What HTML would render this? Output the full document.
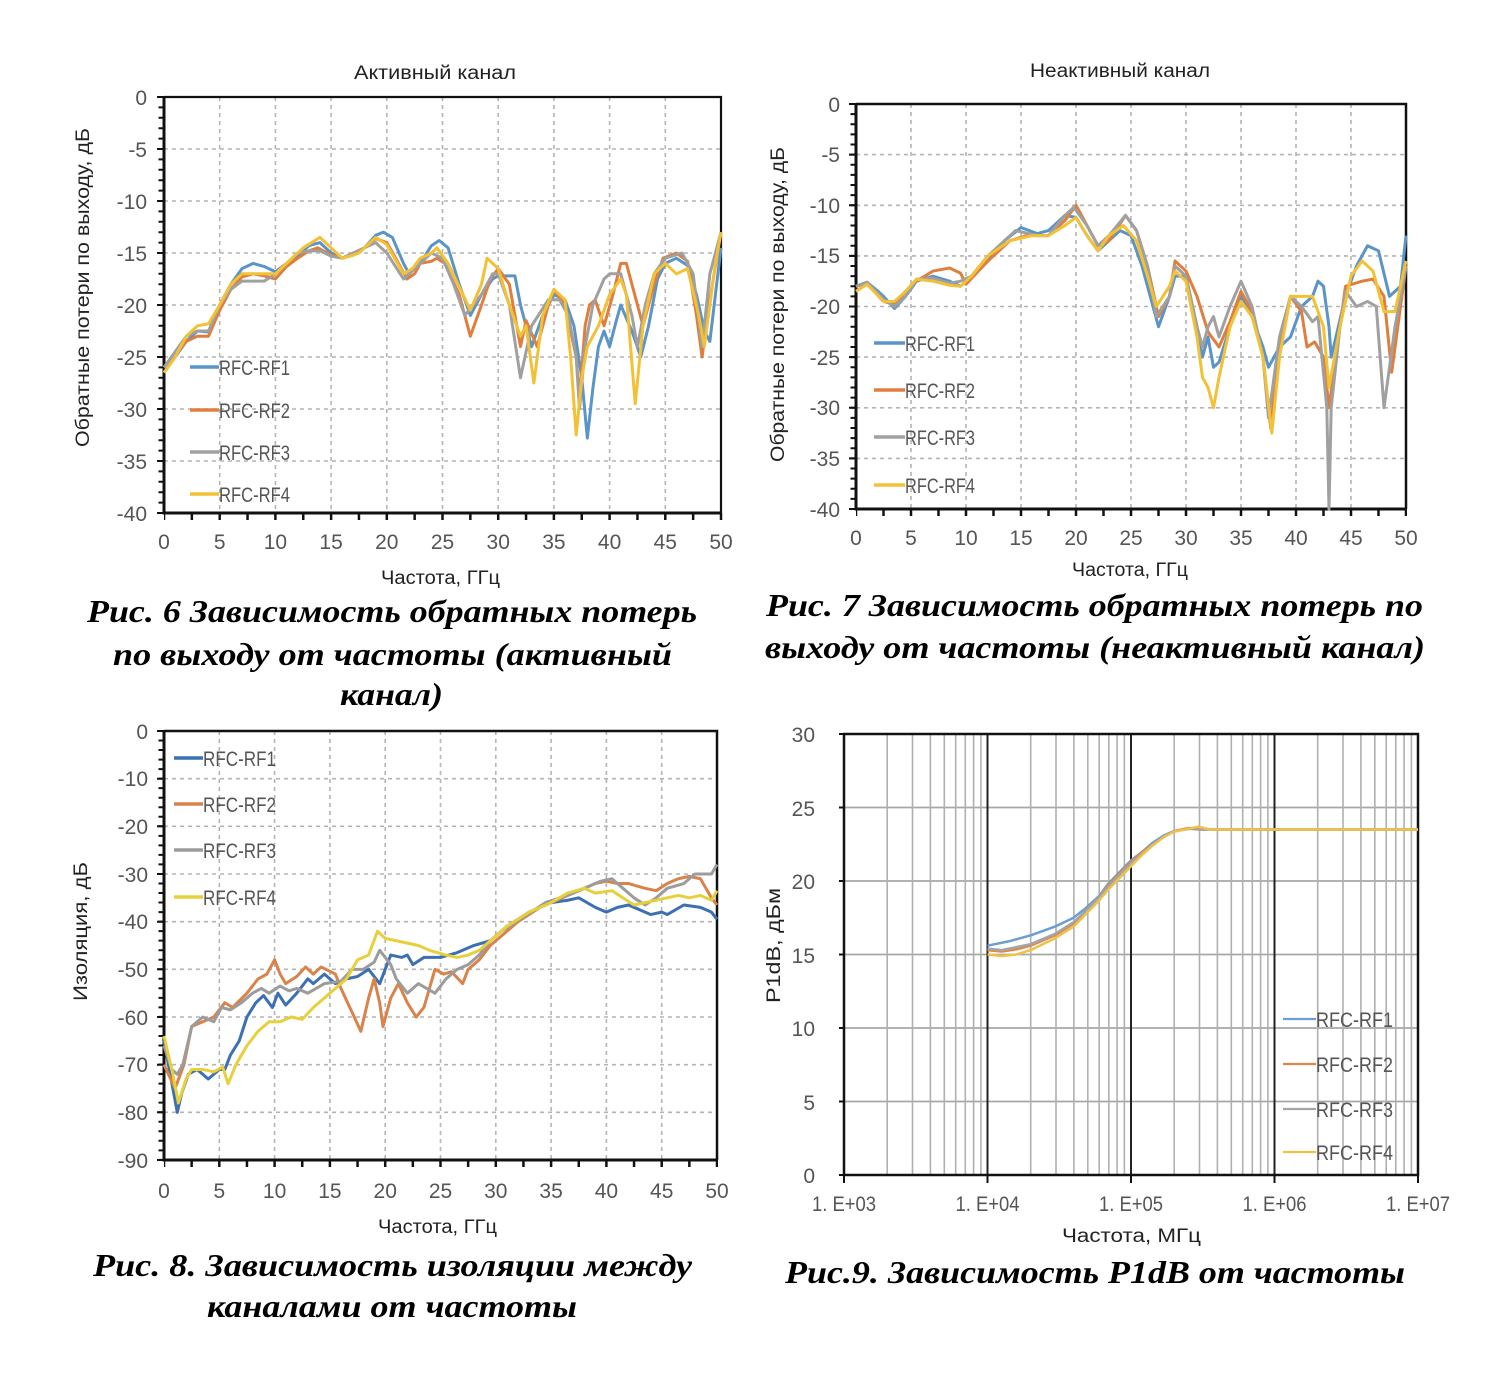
<!DOCTYPE html>
<html><head><meta charset="utf-8"><style>
html,body{margin:0;padding:0;background:#fff}
svg{display:block}
.t{font-family:"Liberation Sans",sans-serif;fill:#555;font-size:21px}
.ttl{font-family:"Liberation Sans",sans-serif;fill:#222;font-size:19px}
.cap{font-family:"Liberation Serif",serif;font-weight:bold;font-style:italic;font-size:32px;fill:#000}
.lg{font-family:"Liberation Sans",sans-serif;fill:#555;font-size:21px}
polyline{vector-effect:non-scaling-stroke}
</style></head><body>
<svg width="1486" height="1373" viewBox="0 0 1486 1373" xmlns="http://www.w3.org/2000/svg">
<rect width="1486" height="1373" fill="#fff"/>

<!-- ============ CHART 1 ============ -->
<text class="ttl" x="435" y="79" text-anchor="middle" textLength="162" lengthAdjust="spacingAndGlyphs">Активный канал</text>
<path d="M164 149H721M164 201H721M164 253H721M164 305H721M164 357H721M164 409H721M164 461H721M219.7 97V513M275.4 97V513M331.1 97V513M386.8 97V513M442.5 97V513M498.2 97V513M553.9 97V513M609.6 97V513M665.3 97V513" stroke="#b4b4b4" stroke-width="1.6" stroke-dasharray="4 4" fill="none"/>
<path d="M164 97H721V513" stroke="#111" stroke-width="2.2" fill="none"/>
<line x1="161" y1="97" x2="161" y2="513" stroke="#111" stroke-width="5" stroke-dasharray="2 8.4" stroke-dashoffset="1"/>
<path d="M157 97H164M157 149H164M157 201H164M157 253H164M157 305H164M157 357H164M157 409H164M157 461H164M157 513H164" stroke="#111" stroke-width="2"/>
<line x1="164" y1="516.5" x2="723" y2="516.5" stroke="#111" stroke-width="7" stroke-dasharray="2.5 25.35" stroke-dashoffset="1.25"/>
<path d="M164 97V513H721" stroke="#111" stroke-width="3" fill="none"/>
<g class="t" text-anchor="end">
<text x="147" y="105">0</text><text x="147" y="157">-5</text><text x="147" y="209">-10</text><text x="147" y="261">-15</text><text x="147" y="313">-20</text><text x="147" y="365">-25</text><text x="147" y="417">-30</text><text x="147" y="469">-35</text><text x="147" y="521">-40</text>
</g>
<g class="t" text-anchor="middle">
<text x="164" y="549">0</text><text x="219.7" y="549">5</text><text x="275.4" y="549">10</text><text x="331.1" y="549">15</text><text x="386.8" y="549">20</text><text x="442.5" y="549">25</text><text x="498.2" y="549">30</text><text x="553.9" y="549">35</text><text x="609.6" y="549">40</text><text x="665.3" y="549">45</text><text x="721" y="549">50</text>
</g>
<text class="ttl" transform="translate(89 287.5) rotate(-90)" text-anchor="middle" textLength="319" lengthAdjust="spacingAndGlyphs">Обратные потери по выходу, дБ</text>
<text class="ttl" x="440.5" y="584" text-anchor="middle" textLength="119" lengthAdjust="spacingAndGlyphs">Частота, ГГц</text>
<g transform="translate(164 97) scale(11.14 -10.4)" fill="none" stroke-width="3" stroke-linejoin="round">
<polyline stroke="#5a94c8" points="0,-26.5 1,-25 2,-23.5 3,-22.5 4,-22.6 4.5,-21.5 5,-20 6,-18 7,-16.5 8,-16 9,-16.3 10,-16.8 11,-16 12,-15.3 13,-14.3 14,-14 15,-15 16,-15.5 17,-15.2 18,-14.5 19,-13.3 19.7,-13 20.5,-13.5 21.5,-16 22,-17 23,-16 24,-14.3 24.7,-13.8 25.5,-14.5 26.5,-18 27.5,-21 28.5,-19 29.5,-17.5 30,-17.2 31.5,-17.2 32,-20 33,-24 34,-21 35,-19 36,-19.5 36.8,-22 37.5,-27 38,-32.8 38.5,-28 39,-24 39.5,-22.5 40,-24 40.6,-21.5 41,-20 42,-22.5 42.8,-25 43.5,-22 44.3,-17.5 45,-16 46,-15.5 47,-16.2 47.8,-19 48.5,-22.5 49,-23.5 49.5,-19 50,-14.5"/>
<polyline stroke="#e07e3e" points="0,-26 1,-24.8 2,-23.5 3,-23 4,-23 5,-20.5 6,-18.5 7,-17.3 8,-17 9,-17.2 10,-17.5 11,-16.3 12,-15.5 13,-14.8 13.8,-14.5 15,-15.2 16,-15.5 17,-15 18,-14.5 19,-13.6 20,-14 20.8,-15.5 21.8,-17.5 22.5,-17 23,-16 24,-15.8 24.5,-15.5 25.2,-16 26.5,-19 27.5,-23 28.5,-20 29.3,-17.5 30,-16.5 31,-18 32,-24 32.5,-21.5 33.5,-24 34.5,-20 35,-18.5 36,-20 37,-25 37.3,-29 37.8,-22 38.2,-20 38.7,-19.5 39.5,-22 40.3,-19 41,-16 41.5,-16 42.5,-20 43,-22 44,-18 44.8,-15.5 46,-15 47,-15.8 47.8,-21 48.3,-25 49,-19.5 50,-13"/>
<polyline stroke="#a0a0a0" points="0,-26 1,-24.5 2,-23 3,-22.5 4,-22.5 5,-20 6,-18.5 7,-17.7 8,-17.7 9,-17.7 10,-17 11,-16 12,-15 13,-14.8 14,-14.8 15,-15.3 16,-15.5 17,-15 18,-14.5 19,-14 20,-15 21.5,-17.5 22.5,-16.5 24,-15 25,-15.5 26,-18 27,-21 28.5,-19 29.5,-17 30,-17 31,-20 32,-27 33,-22 34.5,-19.5 35.5,-19.5 36.3,-21 37,-25 37.3,-30 37.8,-24 38.5,-20 39.5,-17.5 40,-17 41,-17 42,-21 42.5,-24 43.2,-20 44,-17 45,-15.5 46.5,-15 47.5,-17 48.3,-24 49,-17 50,-13"/>
<polyline stroke="#f3c136" points="0,-26.5 1,-25 2,-23 3,-22 4,-21.8 5,-20 6,-18 7,-17 8.5,-17 10,-17 11,-16 12,-15 12.5,-14.5 14,-13.5 15,-14.5 16,-15.5 17,-15.2 17.5,-15 19,-13.5 20,-14.2 21.5,-17 22.3,-16.5 23,-15.5 24,-15 24.5,-14.5 25.5,-16 27.5,-20.5 28.5,-18 29,-15.5 30,-16.5 31,-20 32,-23 32.5,-22 33.2,-27.5 34,-21 35,-18.5 36,-19.5 36.5,-25 37,-32.5 37.5,-27 38,-24 39,-22 40,-19 41,-17.5 41.5,-19 42.3,-29.5 43,-22 44,-17 45,-16 46,-17 47,-16.5 48,-21 48.5,-24 49.5,-16 50,-13"/>
</g>
<g stroke-width="3.5">
<line x1="190" y1="367" x2="219" y2="367" stroke="#5a94c8"/>
<line x1="190" y1="410" x2="219" y2="410" stroke="#e07e3e"/>
<line x1="190" y1="452" x2="219" y2="452" stroke="#a0a0a0"/>
<line x1="190" y1="494" x2="219" y2="494" stroke="#f3c136"/>
</g>
<g class="lg">
<text x="219" y="375" textLength="71" lengthAdjust="spacingAndGlyphs">RFC-RF1</text>
<text x="219" y="418" textLength="71" lengthAdjust="spacingAndGlyphs">RFC-RF2</text>
<text x="219" y="460" textLength="71" lengthAdjust="spacingAndGlyphs">RFC-RF3</text>
<text x="219" y="502" textLength="71" lengthAdjust="spacingAndGlyphs">RFC-RF4</text>
</g>
<text class="cap" x="392" y="622" text-anchor="middle" textLength="610" lengthAdjust="spacingAndGlyphs">Рис. 6 Зависимость обратных потерь</text>
<text class="cap" x="392.5" y="665" text-anchor="middle" textLength="559" lengthAdjust="spacingAndGlyphs">по выходу от частоты (активный</text>
<text class="cap" x="391.5" y="705" text-anchor="middle" textLength="103" lengthAdjust="spacingAndGlyphs">канал)</text>

<!-- ============ CHART 2 ============ -->
<text class="ttl" x="1120" y="77" text-anchor="middle" textLength="180" lengthAdjust="spacingAndGlyphs">Неактивный канал</text>
<path d="M856 154.6H1406M856 205.3H1406M856 255.9H1406M856 306.5H1406M856 357.1H1406M856 407.8H1406M856 458.4H1406M911 104V509M966 104V509M1021 104V509M1076 104V509M1131 104V509M1186 104V509M1241 104V509M1296 104V509M1351 104V509" stroke="#b4b4b4" stroke-width="1.6" stroke-dasharray="4 4" fill="none"/>
<path d="M856 104H1406V509" stroke="#111" stroke-width="2.5" fill="none"/>
<line x1="853" y1="104" x2="853" y2="509" stroke="#111" stroke-width="5" stroke-dasharray="2 8.125" stroke-dashoffset="1"/>
<path d="M849 104H856M849 154.6H856M849 205.3H856M849 255.9H856M849 306.5H856M849 357.1H856M849 407.8H856M849 458.4H856M849 509H856" stroke="#111" stroke-width="2"/>
<line x1="856" y1="512.5" x2="1407" y2="512.5" stroke="#111" stroke-width="7" stroke-dasharray="2.5 25" stroke-dashoffset="1.25"/>
<path d="M856 104V509H1406" stroke="#111" stroke-width="3" fill="none"/>
<g class="t" text-anchor="end">
<text x="840" y="112">0</text><text x="840" y="162">-5</text><text x="840" y="213">-10</text><text x="840" y="263">-15</text><text x="840" y="314">-20</text><text x="840" y="365">-25</text><text x="840" y="415">-30</text><text x="840" y="466">-35</text><text x="840" y="517">-40</text>
</g>
<g class="t" text-anchor="middle">
<text x="856" y="545">0</text><text x="911" y="545">5</text><text x="966" y="545">10</text><text x="1021" y="545">15</text><text x="1076" y="545">20</text><text x="1131" y="545">25</text><text x="1186" y="545">30</text><text x="1241" y="545">35</text><text x="1296" y="545">40</text><text x="1351" y="545">45</text><text x="1406" y="545">50</text>
</g>
<text class="ttl" transform="translate(784 304.5) rotate(-90)" text-anchor="middle" textLength="315" lengthAdjust="spacingAndGlyphs">Обратные потери по выходу, дБ</text>
<text class="ttl" x="1130" y="576" text-anchor="middle" textLength="116" lengthAdjust="spacingAndGlyphs">Частота, ГГц</text>
<g transform="translate(856 104) scale(11 -10.125)" fill="none" stroke-width="3" stroke-linejoin="round">
<polyline stroke="#5a94c8" points="0,-18 1,-17.6 2,-18.5 2.5,-19 3.5,-20.2 4.5,-19 5.5,-17.5 7,-17 8.5,-17.5 9.5,-18 10.5,-17 12,-15.5 13.5,-13.5 15,-12.2 16.5,-12.8 17.5,-12.5 19,-11 20,-11.2 21,-13 22,-14.5 23,-13.5 24,-12.5 25,-13 26,-16 27,-20 27.5,-22 28.5,-19 29,-17 30,-17 31,-22 31.5,-25 32,-23 32.5,-26 33,-25.5 34,-22 35,-19 36,-21 37,-24 37.5,-26 38.5,-24 39.5,-23 40.5,-20 41.5,-19 42,-17.5 42.5,-18 43,-22 43.2,-25 44.5,-19 45.5,-16 46.5,-14 47.5,-14.5 48.5,-19 49.5,-18 50,-13"/>
<polyline stroke="#e07e3e" points="0,-18 1,-17.7 2.5,-19.5 3.5,-19.8 4.5,-18.5 5.5,-17.5 7,-16.5 8.5,-16.2 9.5,-16.7 10,-17.8 12,-15.5 14,-13.5 15.5,-13 17.5,-13 19,-11.5 20,-10 21,-12 22,-14 23,-13.5 24.5,-11 25.5,-12.5 26.5,-16 27.5,-21 28.5,-19 29,-15.5 30,-16.5 31,-19 32,-22.5 33,-24 34,-21.5 35,-18.5 36,-20.5 37,-25 37.7,-32 38.5,-24 39.5,-19 40.5,-20.5 41,-24 41.7,-23.5 42.5,-25 43,-30 44,-22 44.5,-18 46,-17.5 47,-17.3 48,-19 48.7,-26.5 49.5,-20 50,-16"/>
<polyline stroke="#a0a0a0" points="0,-18 1,-17.6 2.5,-19.3 3.5,-20 4.5,-19 5.5,-17.3 7,-17.2 8.5,-17.7 9.5,-17.5 10.5,-17 12,-15 14.5,-12.5 16.5,-13 17.5,-13 19,-11 19.8,-10.2 21,-12 22,-14 23,-13 24.5,-11 25.5,-12.5 26.5,-16 27.3,-21 28.5,-19 29,-16 30,-17 31,-22 31.5,-24 32,-22 32.5,-21 33,-23 34,-20 35,-17.5 36,-20 37,-25 37.5,-31 38.5,-23 39.5,-19 40.5,-20 41.5,-21.5 42,-21 42.8,-30 43,-40 43.2,-30 44,-22 44.5,-18.5 45.5,-20 46.5,-19.5 47.3,-20 48,-30 49,-22 50,-16"/>
<polyline stroke="#f3c136" points="0,-18.5 1,-17.8 2.5,-19.5 3.5,-19.5 4.5,-18.5 5.5,-17.3 7,-17.5 8.5,-17.9 9.5,-18 10.5,-17 12,-15 14,-13.5 16,-13 17.5,-13 19,-12 20,-11.2 21,-13 22,-14.5 23,-13 24.3,-12 25.5,-13.5 26.5,-17 27.3,-20 28.5,-18 29,-16.5 30,-17.5 31,-23 31.5,-27 32,-28 32.5,-30 33,-27 34,-22 35,-19.5 36,-21 37,-25 37.8,-32.5 38.5,-25 39.5,-19 40.5,-19 41.5,-19 42.5,-22 43,-28 44,-22 45,-17 46,-15.5 47,-16.5 48,-20.5 49,-20.5 50,-15.5"/>
</g>
<g stroke-width="3.5">
<line x1="874" y1="343" x2="905" y2="343" stroke="#5a94c8"/>
<line x1="874" y1="390" x2="905" y2="390" stroke="#e07e3e"/>
<line x1="874" y1="437" x2="905" y2="437" stroke="#a0a0a0"/>
<line x1="874" y1="485" x2="905" y2="485" stroke="#f3c136"/>
</g>
<g class="lg">
<text x="905" y="351" textLength="70" lengthAdjust="spacingAndGlyphs">RFC-RF1</text>
<text x="905" y="398" textLength="70" lengthAdjust="spacingAndGlyphs">RFC-RF2</text>
<text x="905" y="445" textLength="70" lengthAdjust="spacingAndGlyphs">RFC-RF3</text>
<text x="905" y="493" textLength="70" lengthAdjust="spacingAndGlyphs">RFC-RF4</text>
</g>
<text class="cap" x="1094.5" y="616" text-anchor="middle" textLength="657" lengthAdjust="spacingAndGlyphs">Рис. 7 Зависимость обратных потерь по</text>
<text class="cap" x="1095" y="658" text-anchor="middle" textLength="660" lengthAdjust="spacingAndGlyphs">выходу от частоты (неактивный канал)</text>

<!-- ============ CHART 3 ============ -->
<path d="M164 778.7H717M164 826.3H717M164 874H717M164 921.7H717M164 969.3H717M164 1017H717M164 1064.7H717M164 1112.3H717M219.3 731V1160M274.6 731V1160M329.9 731V1160M385.2 731V1160M440.5 731V1160M495.8 731V1160M551.1 731V1160M606.4 731V1160M661.7 731V1160" stroke="#b4b4b4" stroke-width="1.6" stroke-dasharray="4 4" fill="none"/>
<path d="M164 731H717V1160" stroke="#111" stroke-width="2.5" fill="none"/>
<line x1="161" y1="731" x2="161" y2="1160" stroke="#111" stroke-width="5" stroke-dasharray="2 7.53" stroke-dashoffset="1"/>
<path d="M157 731H164M157 778.7H164M157 826.3H164M157 874H164M157 921.7H164M157 969.3H164M157 1017H164M157 1064.7H164M157 1112.3H164M157 1160H164" stroke="#111" stroke-width="2"/>
<line x1="164" y1="1163.5" x2="718" y2="1163.5" stroke="#111" stroke-width="7" stroke-dasharray="2.5 25.15" stroke-dashoffset="1.25"/>
<path d="M164 731V1160H717" stroke="#111" stroke-width="3" fill="none"/>
<g class="t" text-anchor="end">
<text x="148" y="739">0</text><text x="148" y="786">-10</text><text x="148" y="834">-20</text><text x="148" y="882">-30</text><text x="148" y="929">-40</text><text x="148" y="977">-50</text><text x="148" y="1025">-60</text><text x="148" y="1072">-70</text><text x="148" y="1120">-80</text><text x="148" y="1168">-90</text>
</g>
<g class="t" text-anchor="middle">
<text x="164" y="1198">0</text><text x="219.3" y="1198">5</text><text x="274.6" y="1198">10</text><text x="329.9" y="1198">15</text><text x="385.2" y="1198">20</text><text x="440.5" y="1198">25</text><text x="495.8" y="1198">30</text><text x="551.1" y="1198">35</text><text x="606.4" y="1198">40</text><text x="661.7" y="1198">45</text><text x="717" y="1198">50</text>
</g>
<text class="ttl" transform="translate(87 931.5) rotate(-90)" text-anchor="middle" textLength="139" lengthAdjust="spacingAndGlyphs">Изоляция, дБ</text>
<text class="ttl" x="437.5" y="1233" text-anchor="middle" textLength="119" lengthAdjust="spacingAndGlyphs">Частота, ГГц</text>
<g transform="translate(164 731) scale(11.06 -4.767)" fill="none" stroke-width="3" stroke-linejoin="round">
<polyline stroke="#3d6fb3" points="0,-65 0.8,-75 1.2,-80 1.6,-76 2.2,-72 3,-71 3.5,-72 4,-73 5,-71 5.5,-71 6,-68 6.8,-65 7.5,-60 8.3,-57 9,-55.5 9.8,-58 10.3,-55 11,-57.5 12,-55 13,-52 13.5,-53 14.5,-51 15.5,-53 16.5,-52 17.5,-51.5 18.5,-50 19.5,-53 20.5,-47 21.5,-47.5 22,-47 22.5,-49 23.5,-47.5 25,-47.5 26.5,-46.5 28,-45 29.5,-44 31,-41 33,-38 35,-36 36.5,-35.5 37.5,-35 39,-37 40,-38 41,-37 42,-36.5 43,-37.5 44,-38.5 45,-38 45.5,-38.5 47,-36.5 48.5,-37 49.5,-38 50,-39.5"/>
<polyline stroke="#d9824a" points="0,-70 0.6,-73 1,-75 1.8,-70 2.5,-62 3.5,-61 4.5,-60 5.5,-57 6.2,-58 7.5,-55 8.5,-52 9.3,-51 10,-48 10.5,-51 11,-53 12,-51.5 12.8,-49.5 13.5,-51 14.2,-49.5 15.5,-51 16,-54 17,-59 17.8,-63 18.5,-56 19,-52 19.5,-57 19.8,-62 20.5,-56 21.2,-53 22,-57 22.8,-60 23.5,-58 24.5,-50 25.3,-51 26,-50.5 27,-53 27.5,-50 28.5,-48 29.5,-45 30.5,-43 32,-40 34,-37 36,-35 38,-33 39,-32 40,-31.5 41,-32 42,-32 43.5,-33 44.5,-33.5 45.5,-32 46.5,-31 47.5,-30.5 48.5,-31 49.5,-35 50,-36.5"/>
<polyline stroke="#9c9c9c" points="0,-66 0.7,-71 1.2,-72 1.7,-70 2.5,-62 3.5,-60 4.5,-61 5.2,-58 6,-58.5 7,-57 8,-55 8.8,-54 9.5,-55 10.5,-53.5 11.3,-54.5 12,-54 13,-55 14.5,-53 16,-52.5 17,-50 18,-50 19,-48.5 19.5,-46 20.5,-49 21,-52 22,-55 23,-53 24.5,-55 25.5,-52 26.5,-50 27.5,-49 28.5,-47 29.5,-44 30.5,-42 32.5,-39 34.5,-36 36.5,-34.5 38,-33 39.5,-31.5 40.5,-31 41.5,-33 42.5,-35 43.5,-36.5 44.5,-35 45.5,-33 47,-32 48,-30 49.5,-30 50,-28"/>
<polyline stroke="#e6d03c" points="0,-64 0.8,-72 1.3,-78 2,-73 2.5,-71 3.5,-71 4.5,-71.5 5.3,-70.5 5.8,-74 6.5,-70 7.5,-66 8.5,-63 9.5,-61 10.5,-61 11.5,-60 12.5,-60.5 13.5,-58 14.5,-56 15.5,-54 16.5,-52 17.5,-48 18.5,-47 19.3,-42 20,-43.5 21,-44 22,-44.5 23,-45 24,-46 25.5,-47 26.5,-47.5 27.5,-47 28.5,-46 29.5,-44 31,-41 33,-38 35,-36 36.5,-34 38,-33 39,-34 40.5,-33.5 41.5,-35 42.5,-36.5 43.5,-36 44.5,-35.5 45.5,-35 46.5,-34.5 47.5,-35 48.5,-34.5 49.5,-35.5 50,-33.5"/>
</g>
<g stroke-width="3.5">
<line x1="174" y1="758" x2="203" y2="758" stroke="#3d6fb3"/>
<line x1="174" y1="804" x2="203" y2="804" stroke="#d9824a"/>
<line x1="174" y1="850" x2="203" y2="850" stroke="#9c9c9c"/>
<line x1="174" y1="897" x2="203" y2="897" stroke="#e6d03c"/>
</g>
<g class="lg">
<text x="203" y="766" textLength="73" lengthAdjust="spacingAndGlyphs">RFC-RF1</text>
<text x="203" y="812" textLength="73" lengthAdjust="spacingAndGlyphs">RFC-RF2</text>
<text x="203" y="858" textLength="73" lengthAdjust="spacingAndGlyphs">RFC-RF3</text>
<text x="203" y="905" textLength="73" lengthAdjust="spacingAndGlyphs">RFC-RF4</text>
</g>
<text class="cap" x="392.5" y="1276" text-anchor="middle" textLength="599" lengthAdjust="spacingAndGlyphs">Рис. 8. Зависимость изоляции между</text>
<text class="cap" x="392" y="1317" text-anchor="middle" textLength="370" lengthAdjust="spacingAndGlyphs">каналами от частоты</text>

<!-- ============ CHART 4 ============ -->
<path d="M844 1101.5H1418M844 1028H1418M844 954.5H1418M844 881H1418M844 807.5H1418" stroke="#a8a8a8" stroke-width="1.8" fill="none"/>
<path d="M887.2 734V1175M912.5 734V1175M930.4 734V1175M944.3 734V1175M955.7 734V1175M965.3 734V1175M973.6 734V1175M980.9 734V1175M1030.7 734V1175M1056 734V1175M1073.9 734V1175M1087.8 734V1175M1099.2 734V1175M1108.8 734V1175M1117.1 734V1175M1124.4 734V1175M1174.2 734V1175M1199.5 734V1175M1217.4 734V1175M1231.3 734V1175M1242.7 734V1175M1252.3 734V1175M1260.6 734V1175M1267.9 734V1175M1317.7 734V1175M1343 734V1175M1360.9 734V1175M1374.8 734V1175M1386.2 734V1175M1395.8 734V1175M1404.1 734V1175M1411.4 734V1175" stroke="#b0b0b0" stroke-width="1.6" fill="none"/>
<path d="M987.5 734V1175M1131 734V1175M1274.5 734V1175" stroke="#222" stroke-width="2" fill="none"/>
<path d="M844 734H1418V1175H844Z" stroke="#111" stroke-width="2.5" fill="none"/>
<path d="M839 734H844M839 807.5H844M839 881H844M839 954.5H844M839 1028H844M839 1101.5H844M839 1175H844M844 1175V1183M987.5 1175V1183M1131 1175V1183M1274.5 1175V1183M1418 1175V1183" stroke="#111" stroke-width="2"/>
<g class="t" text-anchor="end">
<text x="815" y="742">30</text><text x="815" y="816">25</text><text x="815" y="889">20</text><text x="815" y="963">15</text><text x="815" y="1036">10</text><text x="815" y="1110">5</text><text x="815" y="1183">0</text>
</g>
<g class="t" text-anchor="middle">
<text x="844" y="1211" textLength="64" lengthAdjust="spacingAndGlyphs">1. E+03</text>
<text x="987.5" y="1211" textLength="64" lengthAdjust="spacingAndGlyphs">1. E+04</text>
<text x="1131" y="1211" textLength="64" lengthAdjust="spacingAndGlyphs">1. E+05</text>
<text x="1274.5" y="1211" textLength="64" lengthAdjust="spacingAndGlyphs">1. E+06</text>
<text x="1418" y="1211" textLength="64" lengthAdjust="spacingAndGlyphs">1. E+07</text>
</g>
<text class="ttl" transform="translate(780 945.5) rotate(-90)" text-anchor="middle" textLength="115" lengthAdjust="spacingAndGlyphs">P1dB, дБм</text>
<text class="ttl" x="1131.5" y="1242" text-anchor="middle" textLength="139" lengthAdjust="spacingAndGlyphs">Частота, МГц</text>
<g transform="translate(844 1175) scale(143.5 -14.7)" fill="none" stroke-width="2.5" stroke-linejoin="round">
<polyline stroke="#6a9fd0" points="1,15.6 1.15,15.9 1.3,16.3 1.47,16.9 1.6,17.5 1.69,18.2 1.78,19 1.84,19.8 1.92,20.6 2,21.4 2.08,22 2.15,22.6 2.23,23.1 2.3,23.4 2.4,23.55 2.48,23.5 4,23.5"/>
<polyline stroke="#e0874a" points="1,15.3 1.1,15.2 1.2,15.35 1.3,15.6 1.47,16.3 1.6,17.1 1.69,18 1.78,18.9 1.84,19.7 1.92,20.5 2,21.3 2.08,22 2.15,22.5 2.23,23 2.3,23.4 2.4,23.6 2.48,23.5 4,23.5"/>
<polyline stroke="#a5a5a5" points="1,15.4 1.1,15.3 1.3,15.7 1.47,16.4 1.6,17.2 1.69,18 1.78,18.9 1.84,19.6 1.92,20.4 2,21.2 2.08,21.9 2.15,22.5 2.23,23 2.3,23.4 2.45,23.6 2.5,23.5 4,23.5"/>
<polyline stroke="#eec24a" points="1,15 1.1,14.9 1.2,15 1.3,15.3 1.47,16.1 1.6,16.9 1.69,17.8 1.78,18.7 1.84,19.4 1.92,20.2 2,21 2.08,21.8 2.15,22.4 2.23,23 2.3,23.35 2.4,23.55 2.47,23.7 2.55,23.5 4,23.5"/>
</g>
<g stroke-width="2.2">
<line x1="1283" y1="1019" x2="1316" y2="1019" stroke="#6a9fd0"/>
<line x1="1283" y1="1064" x2="1316" y2="1064" stroke="#e0874a"/>
<line x1="1283" y1="1109" x2="1316" y2="1109" stroke="#a5a5a5"/>
<line x1="1283" y1="1152" x2="1316" y2="1152" stroke="#eec24a"/>
</g>
<g class="lg">
<text x="1316" y="1027" textLength="77" lengthAdjust="spacingAndGlyphs">RFC-RF1</text>
<text x="1316" y="1072" textLength="77" lengthAdjust="spacingAndGlyphs">RFC-RF2</text>
<text x="1316" y="1117" textLength="77" lengthAdjust="spacingAndGlyphs">RFC-RF3</text>
<text x="1316" y="1160" textLength="77" lengthAdjust="spacingAndGlyphs">RFC-RF4</text>
</g>
<text class="cap" x="1095" y="1283" text-anchor="middle" textLength="620" lengthAdjust="spacingAndGlyphs">Рис.9. Зависимость P1dB от частоты</text>
</svg>
</body></html>
